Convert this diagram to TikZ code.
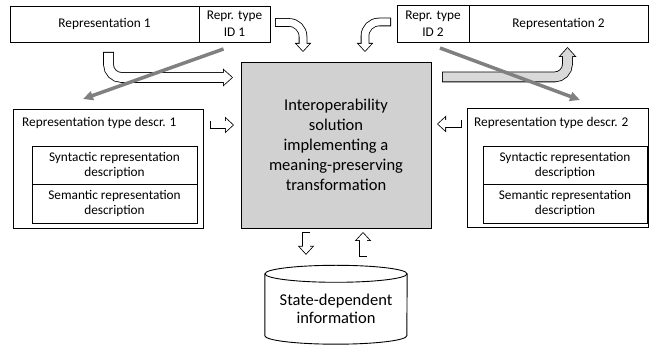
\documentclass[tikz,border=0pt]{standalone}
\usepackage{fontspec}
\setmainfont{Carlito}
\usepackage{tikz}
\usetikzlibrary{positioning,calc,arrows.meta}

\newcommand{\smalltext}{\fontsize{13.3}{15}\selectfont}
\newcommand{\idtext}{\fontsize{13.3}{17}\selectfont}
\newcommand{\bigtext}{\fontsize{16.5}{20}\selectfont}
\newcommand{\storetext}{\fontsize{16.5}{18.5}\selectfont}

\tikzset{
	box/.style={draw, line width=0.9pt, outer sep=0pt, inner sep=2pt, align=center, font=\smalltext},
	hollow/.style={draw=#1, line width=7pt, shorten <=0.8pt, shorten >=1.2pt,
		-{Triangle[length=7pt, width=12.9pt, line width=0pt]},
		preaction={draw=black, line width=8.6pt, shorten <=0pt, shorten >=0pt,
			-{Triangle[length=9pt, width=16.5pt, line width=0pt]}}},
	hollow/.default=white,
	hollowbig/.style={draw=#1, line width=9pt, rounded corners=13pt, shorten <=0.8pt, shorten >=1.2pt,
		-{Triangle[length=8pt, width=14.4pt, line width=0pt]},
		preaction={draw=black, line width=10.6pt, shorten <=0pt, shorten >=0pt,
			-{Triangle[length=10pt, width=18pt, line width=0pt]}}},
	hollowbig/.default=white,
	link/.style={draw=black!50, line width=3.5pt, -{Triangle[length=10pt, width=9pt]}},
}

\begin{document}
\begin{tikzpicture}[x=1pt, y=-1pt]
	\useasboundingbox (0,0) rectangle (649,347);

	\node[box, minimum width=189pt, minimum height=36pt] (rep1) at (104.5,24) {Representation 1};
	\node[box, minimum width=71pt, minimum height=36pt, font=\idtext] (id1) [right=0pt of rep1] {Repr. type\\ID 1};
	\node[box, minimum width=72pt, minimum height=37pt, font=\idtext] (id2) at (433,23.5) {Repr. type\\ID 2};
	\node[box, minimum width=179pt, minimum height=37pt] (rep2) [right=0pt of id2] {Representation 2};

	\node[box, fill=black!18, minimum width=190pt, minimum height=166pt, font=\bigtext] (centre) at (336,145) {Interoperability\\solution\\implementing a\\meaning-preserving\\transformation};

	\node[box, minimum width=190pt, minimum height=119pt] (descr1) at (108,168.5) {};
	\node[anchor=west, inner sep=3pt, font=\smalltext] (title1) at ([xshift=6pt,yshift=-14pt]descr1.north west) {Representation type descr. 1};
	\node[box, minimum width=165pt, minimum height=38pt] (syn1) at (114.5,165) {Syntactic representation\\description};
	\node[box, minimum width=165pt, minimum height=39pt] (sem1) [below=0pt of syn1] {Semantic representation\\description};

	\node[box, minimum width=181pt, minimum height=119pt] (descr2) at (557.5,167.5) {};
	\node[anchor=west, inner sep=3pt, font=\smalltext] (title2) at ([xshift=4pt,yshift=-15pt]descr2.north west) {Representation type descr. 2};
	\node[box, minimum width=164pt, minimum height=38pt] (syn2) at (565,165) {Syntactic representation\\description};
	\node[box, minimum width=164pt, minimum height=39pt] (sem2) [below=0pt of syn2] {Semantic representation\\description};

	\node[minimum width=142pt, minimum height=70pt, align=center, font=\storetext] (store) at (336,309) {State-dependent\\information};
	\draw[line width=0.9pt] (store.north west) -- ([yshift=8.5pt]store.south west)
		arc[start angle=180, end angle=360, x radius=71pt, y radius=8.5pt] -- (store.north east);
	\draw[line width=0.9pt] (store.north) ellipse [x radius=71pt, y radius=8.5pt];

	\coordinate (r1) at ([yshift=-16pt]descr1.north east);
	\coordinate (r2) at ([yshift=-16pt]descr2.north west);

	\draw[hollowbig] ([xshift=4pt,yshift=-10pt]rep1.south) |- ([xshift=-8pt,yshift=-15.5pt]centre.north west);
	\draw[hollow, rounded corners=14pt] ([xshift=5pt,yshift=1.5pt]id1.east) -| ([xshift=-33pt,yshift=10pt]centre.north);
	\draw[hollow, rounded corners=14pt] ([xshift=-6pt,yshift=1.5pt]id2.west) -| ([xshift=29pt,yshift=10pt]centre.north);
	\draw[hollowbig=black!15] ([xshift=11pt,yshift=-15pt]centre.north east) -| ([xshift=9pt,yshift=-5pt]rep2.south);

	\draw[hollow] ($(r1)+(7,0)$) -- ($(r1 -| centre.west)+(-7,0)$);
	\draw[hollow] ($(r2)+(-5,0)$) -- ($(r2 -| centre.east)+(6,0)$);
	\draw[hollow] ([xshift=-30pt,yshift=-4pt]centre.south) -- ([xshift=-30pt,yshift=19pt]store.north);
	\draw[hollow] ([xshift=27pt,yshift=17pt]store.north) -- ([xshift=27pt,yshift=-4pt]centre.south);

	\draw[link] ([xshift=-11pt,yshift=-7pt]id1.south) -- ([xshift=-25pt,yshift=10pt]descr1.north);
	\draw[link] ([xshift=7pt,yshift=-6pt]id2.south) -- ([xshift=22.5pt,yshift=8pt]descr2.north);
\end{tikzpicture}
\end{document}
